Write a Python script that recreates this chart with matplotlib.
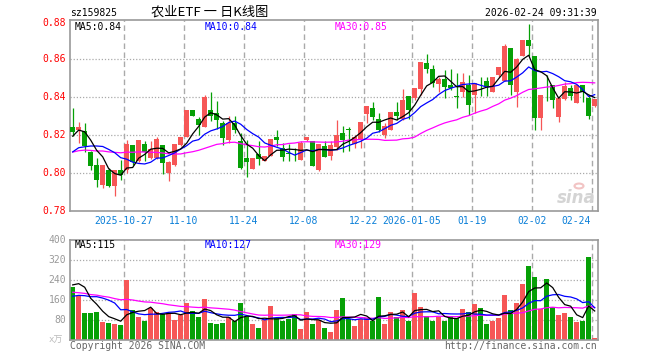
import matplotlib
matplotlib.use('Agg')
import matplotlib.pyplot as plt
import matplotlib.transforms as mtrans
from matplotlib.patches import Circle
import numpy as np

W, H = 660, 360

# ---------------- data ----------------
opens = [0.8245, 0.8225, 0.8223, 0.8113, 0.8044, 0.7938, 0.8014, 0.7930, 0.8014, 0.8014,
         0.8146, 0.8062, 0.8155, 0.8079, 0.8079, 0.8146, 0.8000, 0.8044, 0.8146, 0.8190,
         0.8334, 0.8287, 0.8245, 0.8334, 0.8316, 0.8267, 0.8176, 0.8267, 0.8172, 0.8079,
         0.8021, 0.8102, 0.8062, 0.8092, 0.8190, 0.8132, 0.8102, 0.8085, 0.8070, 0.8176,
         0.8172, 0.8014, 0.8141, 0.8092, 0.8140, 0.8210, 0.8232, 0.8154, 0.8179, 0.8312,
         0.8342, 0.8284, 0.8202, 0.8228, 0.8325, 0.8284, 0.8407, 0.8395, 0.8442, 0.8582,
         0.8547, 0.8468, 0.8495, 0.8465, 0.8405, 0.8430, 0.8465, 0.8412, 0.8491, 0.8486,
         0.8430, 0.8517, 0.8488, 0.8658, 0.8430, 0.8617, 0.8705, 0.8617, 0.8289, 0.8496,
         0.8465, 0.8298, 0.8389, 0.8447, 0.8368, 0.8465, 0.8398, 0.8354]
highs = [0.8345, 0.8268, 0.8264, 0.8115, 0.8079, 0.8044, 0.8026, 0.8014, 0.8067, 0.8176,
         0.8146, 0.8176, 0.8167, 0.8167, 0.8190, 0.8146, 0.8062, 0.8155, 0.8190, 0.8334,
         0.8334, 0.8298, 0.8412, 0.8428, 0.8380, 0.8275, 0.8300, 0.8299, 0.8211, 0.8176,
         0.8079, 0.8167, 0.8092, 0.8181, 0.8225, 0.8158, 0.8155, 0.8132, 0.8172, 0.8190,
         0.8172, 0.8155, 0.8167, 0.8167, 0.8281, 0.8246, 0.8242, 0.8202, 0.8272, 0.8354,
         0.8377, 0.8316, 0.8263, 0.8325, 0.8377, 0.8442, 0.8407, 0.8447, 0.8588, 0.8628,
         0.8570, 0.8509, 0.8544, 0.8547, 0.8526, 0.8526, 0.8517, 0.8477, 0.8509, 0.8509,
         0.8505, 0.8561, 0.8681, 0.8658, 0.8610, 0.8705, 0.8789, 0.8617, 0.8412, 0.8517,
         0.8465, 0.8395, 0.8482, 0.8465, 0.8465, 0.8465, 0.8412, 0.8389]
lows = [0.8194, 0.8158, 0.8109, 0.8014, 0.7926, 0.7921, 0.7926, 0.7877, 0.7965, 0.8000,
        0.8044, 0.8056, 0.8062, 0.8074, 0.8074, 0.7996, 0.7956, 0.8039, 0.8144, 0.8190,
        0.8299, 0.8202, 0.8245, 0.8273, 0.8232, 0.8150, 0.8158, 0.8211, 0.8021, 0.7979,
        0.8021, 0.8044, 0.8062, 0.8090, 0.8141, 0.8062, 0.8062, 0.8062, 0.8067, 0.8172,
        0.8035, 0.8009, 0.8083, 0.8070, 0.8123, 0.8109, 0.8119, 0.8132, 0.8132, 0.8263,
        0.8281, 0.8219, 0.8184, 0.8228, 0.8281, 0.8281, 0.8284, 0.8386, 0.8412, 0.8526,
        0.8456, 0.8430, 0.8395, 0.8439, 0.8342, 0.8403, 0.8307, 0.8319, 0.8407, 0.8407,
        0.8430, 0.8509, 0.8488, 0.8412, 0.8351, 0.8617, 0.8617, 0.8228, 0.8228, 0.8380,
        0.8342, 0.8272, 0.8386, 0.8386, 0.8368, 0.8377, 0.8284, 0.8347]
closes = [0.8215, 0.8245, 0.8141, 0.8035, 0.7965, 0.8044, 0.7930, 0.8014, 0.7991, 0.8155,
          0.8058, 0.8176, 0.8114, 0.8128, 0.8181, 0.8053, 0.8058, 0.8155, 0.8190, 0.8334,
          0.8299, 0.8255, 0.8400, 0.8304, 0.8281, 0.8185, 0.8267, 0.8229, 0.8026, 0.8056,
          0.8079, 0.8074, 0.8092, 0.8181, 0.8176, 0.8083, 0.8100, 0.8083, 0.8158, 0.8190,
          0.8035, 0.8155, 0.8083, 0.8146, 0.8202, 0.8175, 0.8230, 0.8189, 0.8272, 0.8354,
          0.8298, 0.8228, 0.8249, 0.8325, 0.8302, 0.8386, 0.8333, 0.8447, 0.8588, 0.8547,
          0.8477, 0.8495, 0.8456, 0.8447, 0.8403, 0.8482, 0.8360, 0.8477, 0.8489, 0.8460,
          0.8505, 0.8561, 0.8670, 0.8465, 0.8600, 0.8705, 0.8670, 0.8289, 0.8412, 0.8494,
          0.8386, 0.8395, 0.8460, 0.8407, 0.8465, 0.8430, 0.8302, 0.8389]
volumes = [212, 175, 108, 108, 112, 72, 68, 64, 60, 240,
           120, 92, 77, 128, 112, 105, 109, 80, 99, 148,
           116, 92, 164, 68, 64, 68, 92, 76, 148, 92,
           64, 48, 84, 136, 88, 76, 84, 104, 44, 112,
           64, 80, 48, 32, 120, 168, 84, 56, 84, 88,
           76, 172, 64, 112, 92, 120, 76, 188, 132, 96,
           76, 92, 76, 96, 88, 124, 112, 144, 128, 64,
           76, 88, 180, 120, 148, 224, 296, 252, 124, 244,
           132, 100, 108, 92, 72, 76, 332, 8]
# estimated earlier sessions (off-chart), only used so the moving averages start where the picture shows them
prior_closes = [0.802, 0.805, 0.808, 0.806, 0.804, 0.807, 0.809, 0.806, 0.805, 0.808,
                0.811, 0.814, 0.817, 0.819, 0.816, 0.818, 0.820, 0.817, 0.814, 0.814,
                0.8025, 0.8091, 0.7995, 0.7965, 0.8069, 0.8085, 0.8186, 0.8255, 0.8234]
prior_volumes = [230, 190, 250, 180, 210, 170, 240, 200, 190, 197,
                 220, 180, 160, 210, 190, 240, 170, 200, 180, 173,
                 140, 120, 150, 110, 128, 150, 180, 330, 230]

tick_idx = [9, 19, 29, 39, 49, 57, 67, 77, 87]
tick_labels = ['2025-10-27', '11-10', '11-24', '12-08', '12-22', '2026-01-05', '01-19', '02-02', '02-24']
price_ticks = [0.78, 0.80, 0.82, 0.84, 0.86, 0.88]
vol_ticks = [80, 160, 240, 320, 400]
vol_ma_labels = ['MA5:115', 'MA10:127', 'MA30:129']

# ---------------- styling ----------------
RED = '#f65656'
GREEN = '#06a006'
GRID = '#aaaaaa'
FRAME = '#999999'
MONO = ['DejaVu Sans Mono', 'Noto Sans CJK SC']
FS = 7

n = len(closes)
x = np.arange(n)
o = np.array(opens); h = np.array(highs); l = np.array(lows); c = np.array(closes)
v = np.array(volumes, dtype=float)
up = c >= o
cols = np.where(up, RED, GREEN)


def rolling(arr_prior, arr, k):
    full = np.concatenate([np.array(arr_prior, float), np.array(arr, float)])
    out = np.convolve(full, np.ones(k) / k, mode='valid')
    return out[-len(arr):]


fig = plt.figure(figsize=(W / 100, H / 100), dpi=100)
fig.patch.set_facecolor('white')


def frac(x0, y0, x1, y1):
    return [x0 / W, 1 - y1 / H, (x1 - x0) / W, (y1 - y0) / H]


def ptext(px, py, s, **kw):
    fig.text(px / W, 1 - py / H, s, **kw)


axp = fig.add_axes(frac(70, 20, 598, 211))
axv = fig.add_axes(frac(70, 240, 598, 340))
XL = (-0.45, n - 0.45)
PY = (0.78, 0.8808)

for ax in (axp, axv):
    ax.set_xlim(*XL)
    ax.set_xticks([])
    ax.set_yticks([])
    for sp in ax.spines.values():
        sp.set_color(FRAME)
        sp.set_linewidth(1.2)
    for ti in tick_idx:
        ax.axvline(ti - 0.45, color=GRID, lw=1.0, ls=(0, (4, 2.5)), zorder=0)

axp.set_ylim(*PY)
axv.set_ylim(0, 400)

for pt in price_ticks[1:-1]:
    axp.axhline(pt, color=GRID, lw=0.9, ls=(0, (1, 1.5)), zorder=0)
for vt in vol_ticks[:-1]:
    axv.axhline(vt, color=GRID, lw=0.9, ls=(0, (1, 1.5)), zorder=0)

# candles
BW = 0.78
axp.vlines(x, l, h, colors=cols, lw=0.9, zorder=2)
body_h = np.maximum(np.abs(c - o), 0.00045)
axp.bar(x, body_h, bottom=np.minimum(o, c), width=BW, color=cols, linewidth=0, zorder=3)

# price moving averages
ma5 = rolling(prior_closes, closes, 5)
ma10 = rolling(prior_closes, closes, 10)
ma30 = rolling(prior_closes, closes, 30)
axp.plot(x, ma30, color='#ff00ff', lw=0.9, zorder=4)
axp.plot(x, ma10, color='#0000ff', lw=0.9, zorder=5)
axp.plot(x, ma5, color='black', lw=0.9, zorder=6)

# volume bars and averages
axv.bar(x, v, width=BW, color=cols, linewidth=0, zorder=2)
vma5 = rolling(prior_volumes, volumes, 5)
vma10 = rolling(prior_volumes, volumes, 10)
vma30 = rolling(prior_volumes, volumes, 30)
axv.plot(x, vma30, color='#ff00ff', lw=0.9, zorder=4)
axv.plot(x, vma10, color='#0000ff', lw=0.9, zorder=5)
axv.plot(x, vma5, color='black', lw=0.9, zorder=6)

# header texts
ptext(70, 13, 'sz159825', fontsize=FS, family=MONO, ha='left', va='center', color='black')
ptext(210, 12.5, '农业ETF 一 日K线图', fontsize=9.5, family=['Noto Sans CJK SC', 'DejaVu Sans'],
      ha='center', va='center', color='black')
ptext(597, 13, '2026-02-24 09:31:39', fontsize=FS, family=MONO, ha='right', va='center', color='black')

ptext(75, 26.5, f'MA5:{ma5[-1]:.2f}', fontsize=FS, family=MONO, ha='left', va='center', color='black')
ptext(205, 26.5, f'MA10:{ma10[-1]:.2f}', fontsize=FS, family=MONO, ha='left', va='center', color='#0000ff')
ptext(335, 26.5, f'MA30:{ma30[-1]:.2f}', fontsize=FS, family=MONO, ha='left', va='center', color='#ff00ff')

ptext(75, 245.5, vol_ma_labels[0], fontsize=FS, family=MONO, ha='left', va='center', color='black')
ptext(205, 245.5, vol_ma_labels[1], fontsize=FS, family=MONO, ha='left', va='center', color='#0000ff')
ptext(335, 245.5, vol_ma_labels[2], fontsize=FS, family=MONO, ha='left', va='center', color='#ff00ff')

# y labels
for pt in price_ticks:
    ypx = 211 - (pt - PY[0]) / (PY[1] - PY[0]) * 191 + (1.5 if pt == price_ticks[-1] else 0)
    ptext(66, ypx, f'{pt:.2f}', fontsize=FS, family=MONO, ha='right', va='center', color='#ff0000')
for vt in vol_ticks:
    ptext(66, 340 - vt / 400 * 100, f'{vt}', fontsize=FS, family=MONO, ha='right', va='center', color='#999999')
ptext(56, 340, 'x万', fontsize=6.5, family=MONO, ha='center', va='center', color='#bbbbbb')

# date labels
tr = mtrans.blended_transform_factory(axp.transData, fig.transFigure)
for k, (ti, lab) in enumerate(zip(tick_idx, tick_labels)):
    xpos = ti - 0.45
    if k == len(tick_idx) - 1:
        axp.text(xpos - 0.15, 1 - 221 / H, lab, transform=tr, fontsize=FS, family=MONO,
                 ha='right', va='center', color='#0a7fd8', clip_on=False)
    else:
        axp.text(xpos, 1 - 221 / H, lab, transform=tr, fontsize=FS, family=MONO,
                 ha='center', va='center', color='#0a7fd8', clip_on=False)

# footer
ptext(70, 346, 'Copyright 2026 SINA.COM', fontsize=FS, family=MONO, ha='left', va='center', color='#666666')
ptext(597, 346, 'http://finance.sina.com.cn', fontsize=FS, family=MONO, ha='right', va='center', color='#666666')

# watermark (sina logo)
ptext(596, 198, 'sina', fontsize=12, family=['DejaVu Sans'], fontweight='bold', fontstyle='italic',
      ha='right', va='center', color='#d4d4d4')
fig.add_artist(Circle((579 / W, 1 - 186 / H), 4.5 / W, transform=fig.transFigure,
                      facecolor='none', edgecolor='#f2c4c4', lw=1.5))

fig.savefig('out.png', dpi=100, facecolor='white')
